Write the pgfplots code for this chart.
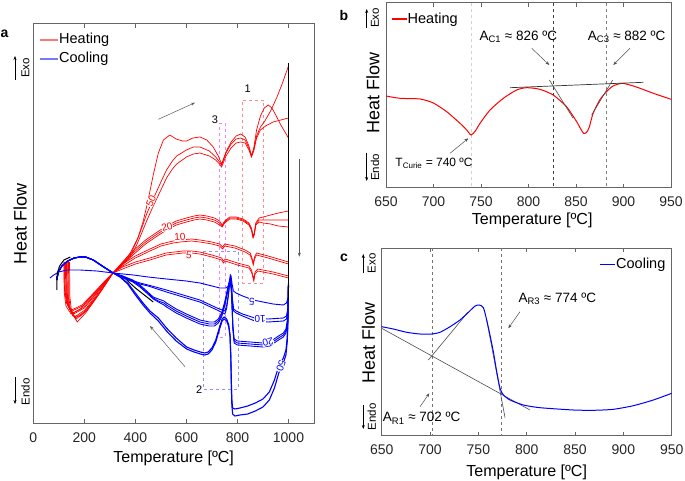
\documentclass[border=0pt]{standalone}
\usepackage{fontspec}
\setmainfont{Liberation Sans}
\usepackage{pgfplots}
\pgfplotsset{compat=1.18}
\usetikzlibrary{arrows.meta}
\definecolor{frame}{gray}{0.4}
\definecolor{boxred}{RGB}{255,140,140}
\definecolor{boxmag}{RGB}{238,130,250}
\definecolor{boxblue}{RGB}{145,145,255}
\definecolor{tang}{gray}{0.3}
\definecolor{palered}{RGB}{255,120,120}
\definecolor{paleblue}{RGB}{120,120,255}
\newcommand{\fs}[1]{\fontsize{#1}{#1}\selectfont}
\pgfplotsset{
  panel/.style={
    scale only axis, anchor=south west,
    axis line style={frame, line width=1pt},
    every tick/.style={frame, line width=0.7pt},
    tick align=inside, major tick length=4pt,
    xtick pos=both, ytick=\empty,
    /pgf/number format/assume math mode=true,
    /pgf/number format/1000 sep={},
    tick label style={font=\fs{14}, text=black!85},
    xticklabel style={yshift=-5pt},
    label style={font=\fs{16}},
  },
  hr/.style={red, line width=0.7pt},
  cb/.style={blue, line width=0.9pt},
}
\begin{document}
\begin{tikzpicture}
\path[use as bounding box] (0,0) rectangle (685pt,480pt);
% ================= Panel a =================
\begin{axis}[panel, at={(33.3pt,57pt)}, width=280.7pt, height=399pt,
  xmin=0, xmax=1100, ymin=-423, ymax=-24, xtick={0,200,...,1000},
  xticklabel style={yshift=-1.5pt},
  xlabel={Temperature [ºC]}, ylabel={Heat Flow},
  xlabel style={at={(axis description cs:0.5,0)}, anchor=center, yshift=-35pt},
  ylabel style={at={(axis description cs:-0.047,0.5)}, anchor=center, font=\fs{18}}]
% boxes
\addplot[boxred, dashed, line width=0.7pt] coordinates {(820,-100) (901,-100) (901,-283) (820,-283) (820,-100)};
\addplot[boxmag, dashed, line width=0.7pt] coordinates {(729,-123) (751,-123) (751,-337) (729,-337) (729,-123)};
\addplot[boxblue, dashed, line width=0.7pt] coordinates {(666,-251) (803,-251) (803,-389) (666,-389) (666,-251)};
% heating 50
\addplot[hr] coordinates {(130,-262) (131,-290) (137,-306) (155,-316) (185,-316) (225,-304) (270,-289) (312,-273) (345,-264) (380,-253) (410,-238) (430,-222) (450,-200) (470,-175) (490,-153) (510,-140) (535,-135) (560,-139) (585,-141) (601,-141) (625,-138) (653,-137) (680,-140) (705,-147) (725,-156) (738,-164) (755,-152) (775,-142) (795,-136) (812,-134) (830,-137) (845,-146) (855,-156) (864,-148) (875,-130) (890,-116) (905,-108) (921,-105) (935,-108) (950,-115) (970,-125) (1000,-138)};
\addplot[hr] coordinates {(142,-262) (143,-296) (150,-312) (172,-322) (205,-313) (250,-297) (290,-282) (312,-273) (345,-265) (380,-255) (405,-241) (425,-228) (444,-214) (470,-199) (500,-182) (522,-170) (545,-161) (562,-156) (600,-150) (627,-147) (653,-147) (690,-151) (715,-157) (730,-162) (738,-165) (755,-153) (775,-144) (795,-139) (812,-138) (830,-140) (845,-148) (855,-156) (864,-149) (875,-136) (890,-127) (905,-122) (930,-111) (955,-97) (975,-84) (1000,-66)};
\addplot[hr] coordinates {(120,-262) (121,-292) (128,-306) (148,-314) (185,-309) (235,-294) (280,-281) (312,-273) (345,-266) (380,-257) (405,-245) (425,-233) (444,-221) (470,-206) (500,-190) (522,-178) (545,-169) (562,-164) (600,-157) (627,-154) (653,-153) (690,-156) (715,-160) (730,-164) (738,-167) (755,-156) (775,-148) (795,-143) (812,-142) (830,-143) (845,-150) (855,-157) (864,-151) (875,-138) (890,-130) (910,-126) (940,-122) (970,-120) (1000,-118)};
% heating 20
\addplot[hr] coordinates {(135,-262) (136,-294) (143,-309) (165,-318) (205,-311) (255,-294) (312,-273) (350,-262) (395,-250) (440,-240) (480,-233) (522,-226) (560,-221) (600,-218) (630,-216) (653,-215) (680,-216) (710,-218) (730,-221) (740,-225) (750,-221) (770,-217) (795,-217) (822,-219) (845,-223) (855,-228) (861,-236) (866,-233) (872,-223) (885,-218) (901,-217) (930,-215) (960,-213) (1000,-211)};
\addplot[hr] coordinates {(138,-262) (139,-296) (146,-311) (168,-319) (208,-311) (257,-294) (312,-273) (350,-263) (395,-252) (440,-242) (480,-235) (522,-228) (560,-223) (600,-220) (630,-218) (653,-217) (680,-218) (710,-220) (730,-223) (740,-226) (750,-222) (770,-218) (795,-218) (822,-220) (845,-224) (855,-229) (861,-237) (866,-234) (872,-224) (885,-220) (901,-220) (930,-220) (960,-220) (1000,-220)};
\addplot[hr] coordinates {(132,-262) (133,-293) (140,-308) (162,-317) (202,-310) (253,-293) (312,-273) (350,-264) (395,-254) (440,-244) (480,-237) (522,-230) (560,-225) (600,-222) (630,-220) (653,-219) (680,-220) (710,-222) (730,-225) (740,-227) (750,-223) (770,-219) (795,-219) (822,-221) (845,-225) (855,-230) (861,-238) (866,-235) (872,-225) (885,-222) (901,-223) (930,-224) (960,-226) (1000,-227)};
% heating 10
\addplot[hr] coordinates {(128,-262) (129,-292) (136,-306) (158,-314) (200,-308) (255,-291) (312,-273) (350,-264) (400,-256) (457,-249) (500,-244) (548,-241) (575,-240) (620,-239) (653,-240) (700,-242) (730,-244) (742,-247) (750,-244) (790,-246) (830,-250) (850,-253) (857,-258) (862,-263) (867,-257) (875,-253) (920,-256) (960,-259) (1000,-262)};
\addplot[hr] coordinates {(126,-262) (127,-291) (134,-305) (156,-313) (198,-307) (253,-291) (312,-273) (350,-266) (400,-258) (457,-251) (500,-246) (548,-243) (575,-242) (620,-241) (653,-242) (700,-244) (730,-246) (742,-249) (750,-246) (790,-248) (830,-252) (850,-255) (857,-260) (862,-265) (867,-259) (875,-255) (920,-258) (960,-261) (1000,-264)};
% heating 5
\addplot[hr] coordinates {(123,-262) (124,-290) (132,-304) (152,-311) (193,-306) (250,-291) (312,-273) (350,-267) (400,-262) (457,-258) (520,-253) (587,-251) (620,-251) (653,-252) (700,-255) (738,-258) (745,-261) (752,-259) (800,-263) (845,-266) (855,-270) (860,-275) (864,-279) (869,-272) (880,-269) (940,-272) (1000,-276)};
\addplot[hr] coordinates {(121,-262) (122,-289) (130,-303) (150,-310) (191,-305) (248,-290) (312,-273) (350,-269) (400,-264) (457,-260) (520,-255) (587,-253) (620,-253) (653,-254) (700,-257) (738,-260) (745,-263) (752,-261) (800,-265) (845,-268) (855,-272) (860,-277) (864,-281) (869,-274) (880,-271) (940,-274) (1000,-278)};
% cooling 5
\addplot[cb] coordinates {(1000,-282) (998,-298) (992,-303) (980,-305) (940,-304) (900,-302) (862,-300) (820,-296) (795,-293) (784,-291) (779,-284) (775,-276) (772,-275) (769,-280) (764,-286) (755,-288) (731,-288) (700,-286) (653,-283) (600,-281) (522,-279) (450,-277) (392,-275) (313,-273) (250,-271) (183,-270) (131,-270) (100,-272) (80,-275) (65,-278)};
% cooling 10
\addplot[cb] coordinates {(1000,-285) (998,-308) (992,-316) (980,-318) (920,-319) (868,-318) (820,-314) (795,-311) (785,-309) (780,-298) (776,-282) (773,-277) (770,-281) (765,-293) (758,-305) (751,-311) (720,-308) (653,-300) (600,-296) (522,-290) (450,-285) (418,-283) (360,-278) (313,-273) (270,-266) (235,-260) (205,-257) (183,-257) (160,-258) (135,-261) (112,-266) (98,-272) (92,-280)};
\addplot[cb] coordinates {(1000,-285) (998,-310) (992,-319) (980,-321) (920,-322) (868,-321) (820,-316) (795,-313) (785,-311) (780,-300) (776,-283) (773,-277) (770,-282) (765,-295) (758,-308) (751,-314) (720,-310) (653,-302) (600,-298) (522,-292) (450,-286) (418,-284) (360,-279) (313,-273) (270,-266) (235,-260) (205,-257) (183,-257) (160,-258) (135,-261) (112,-266) (98,-272) (92,-280)};
% cooling 20
\addplot[cb] coordinates {(1000,-285) (997,-318) (990,-329) (980,-333) (955,-337) (927,-342) (900,-343) (850,-342) (800,-341) (787,-339) (782,-325) (779,-305) (776,-288) (772,-282) (767,-283) (760,-290) (750,-302) (738,-313) (725,-319) (710,-322) (690,-322) (653,-320) (600,-314) (560,-309) (535,-305) (522,-303) (512,-301) (490,-299) (470,-297) (440,-290) (418,-285) (390,-280) (350,-276) (313,-273) (270,-266) (235,-260) (205,-257) (183,-257) (160,-258) (135,-261) (112,-266) (98,-272) (92,-280)};
\addplot[cb] coordinates {(1000,-285) (997,-320) (990,-331) (980,-335) (955,-339) (927,-344) (900,-345) (850,-344) (800,-343) (787,-341) (782,-327) (779,-306) (776,-289) (772,-282) (767,-284) (760,-292) (750,-304) (738,-315) (725,-321) (710,-324) (690,-324) (653,-322) (600,-316) (560,-311) (535,-307) (522,-305) (512,-303) (490,-301) (470,-298) (440,-291) (418,-286) (390,-281) (350,-276) (313,-273) (270,-266) (235,-260) (205,-257) (183,-257) (160,-258) (135,-261) (112,-266) (98,-272) (92,-280)};
\addplot[cb] coordinates {(1000,-285) (997,-322) (990,-333) (980,-337) (955,-341) (927,-346) (900,-347) (850,-346) (800,-345) (787,-343) (782,-329) (779,-307) (776,-290) (772,-283) (767,-285) (760,-294) (750,-306) (738,-317) (725,-323) (710,-326) (690,-326) (653,-324) (600,-318) (560,-313) (535,-309) (522,-307) (512,-305) (490,-302) (470,-299) (440,-292) (418,-287) (390,-282) (350,-277) (313,-273) (270,-266) (235,-260) (205,-257) (183,-257) (160,-258) (135,-261) (112,-266) (98,-272) (92,-280)};
% cooling 50
\addplot[blue, line width=1.1pt] coordinates {(1000,-285) (998,-318) (995,-338) (990,-350) (980,-358) (962,-366) (945,-380) (925,-392) (900,-399) (870,-403) (840,-406) (810,-408) (790,-409) (781,-408) (778,-400) (776,-380) (774,-355) (771,-335) (766,-325) (758,-319) (748,-317) (740,-319) (730,-327) (715,-340) (700,-348) (685,-352) (672,-353) (655,-352) (630,-350) (601,-347) (560,-338) (522,-328) (490,-318) (457,-311) (430,-303) (400,-293) (370,-283) (340,-277) (313,-273) (270,-266) (235,-260) (205,-257) (183,-257) (160,-258) (135,-261) (112,-266) (98,-272) (92,-280)};
\addplot[blue, line width=1.1pt] coordinates {(1000,-285) (998,-322) (995,-342) (990,-355) (980,-363) (962,-373) (945,-388) (925,-400) (900,-407) (870,-411) (840,-414) (810,-415) (790,-416) (781,-414) (778,-405) (776,-385) (774,-358) (771,-337) (766,-327) (758,-321) (748,-319) (740,-321) (730,-329) (715,-342) (700,-350) (685,-354) (672,-355) (655,-354) (630,-352) (601,-349) (560,-341) (522,-331) (490,-321) (457,-313) (430,-305) (400,-295) (370,-284) (340,-277) (313,-273) (270,-266) (235,-260) (205,-257) (183,-257) (160,-258) (135,-261) (112,-266) (98,-272) (92,-280)};
% black segments
\addplot[black, line width=1pt] coordinates {(1000,-63) (1000,-300)};
\addplot[black, line width=1pt] coordinates {(145,-257) (120,-260) (103,-266) (93,-274) (92,-290)};
\addplot[black, line width=1pt] coordinates {(366,-280) (400,-288) (440,-296) (470,-302)};
\end{axis}
% ================= Panel b =================
\begin{axis}[panel, at={(386pt,292.3pt)}, width=285pt, height=185pt,
  xmin=650, xmax=950, ymin=-187.7, ymax=-2.7, xtick={650,700,...,950},
  xlabel={Temperature [ºC]}, ylabel={Heat Flow},
  xlabel style={at={(axis description cs:0.513,0)}, anchor=center, yshift=-33pt},
  ylabel style={at={(axis description cs:-0.046,0.512)}, anchor=center, font=\fs{18}}]
\addplot[gray!35, dashed, line width=0.7pt] coordinates {(740,-2.7) (740,-187.7)};
\addplot[black!75, dashed, line width=0.8pt] coordinates {(826,-2.7) (826,-187.7)};
\addplot[black!50, dashed, line width=0.7pt] coordinates {(882,-2.7) (882,-187.7)};
\addplot[red, line width=1pt, smooth, tension=0.4] coordinates {(650,-96) (664.7,-98.3) (685.8,-99) (699.8,-103) (713.9,-111.7) (727.9,-123.3) (735,-130) (739.5,-135) (744,-131) (749,-123.3) (759.5,-110) (773.5,-98.3) (787.5,-90) (798,-87.7) (812,-89.3) (826,-95) (840,-106.7) (850.7,-121.7) (855,-129) (858,-133.3) (861,-132.5) (864,-127) (868,-113.3) (875,-100) (882,-91.7) (889,-86) (898,-83.3) (906.8,-85) (917.4,-88.3) (931.4,-93.3) (942,-96.7) (950,-99.3)};
\addplot[black!80, line width=0.7pt] coordinates {(780.5,-87.7) (920.9,-82.3)};
\addplot[tang, line width=0.6pt] coordinates {(822,-80) (847,-118.3)};
\addplot[tang, line width=0.6pt] coordinates {(866.5,-115) (888.6,-80)};
\end{axis}
% ================= Panel c =================
\begin{axis}[panel, at={(381.7pt,44.3pt)}, width=290pt, height=187.4pt,
  xmin=650, xmax=950, ymin=-435.7, ymax=-248.3, xtick={650,700,...,950},
  xlabel={Temperature [ºC]}, ylabel={Heat Flow},
  xlabel style={at={(axis description cs:0.5,0)}, anchor=center, yshift=-37pt},
  ylabel style={at={(axis description cs:-0.046,0.493)}, anchor=center, font=\fs{18}}]
\addplot[black!55, dashed, line width=0.7pt] coordinates {(702,-248.3) (702,-435.7)};
\addplot[black!55, dashed, line width=0.7pt] coordinates {(774,-248.3) (774,-435.7)};
\addplot[tang, line width=0.6pt] coordinates {(650,-328.3) (803.4,-410)};
\addplot[tang, line width=0.6pt] coordinates {(698.3,-360) (739.7,-311.7)};
\addplot[tang, line width=0.6pt] coordinates {(758.6,-320) (777.6,-417.7)};
\addplot[blue, line width=1pt, smooth, tension=0.4] coordinates {(650,-326.7) (662,-329) (675.9,-332.3) (689.7,-334) (701.7,-334) (710.3,-332.3) (720.7,-326.7) (731,-320) (739.7,-312.3) (746.6,-306) (751,-305) (755.2,-307.7) (758.6,-320) (762,-335) (765.5,-351.7) (769,-371.7) (772.4,-388.3) (775.9,-395) (782.8,-400) (796.6,-405) (813.8,-407.7) (848.3,-410) (869,-410.3) (889.7,-409.3) (910.3,-405.7) (931,-400) (950,-393.3)};
\end{axis}
% ================= annotations (pixel coordinates) =================
\begin{scope}[shift={(0pt,480pt)}, x=1pt, y=-1pt]
\tikzset{arr/.style={-{Stealth[length=4pt,width=3pt]}, line width=0.5pt}}
% legends
\draw[palered, line width=1.2pt] (40,40) -- (58,40);
\node[anchor=west, inner sep=0.5pt, font=\fs{14.5}] at (58.5,40) {Heating};
\draw[paleblue, line width=1.2pt] (40,59) -- (58,59);
\node[anchor=west, inner sep=0.5pt, font=\fs{14.5}] at (58.5,59) {Cooling};
\fill[red] (391.7,18.5) rectangle (406.7,20.1);
\node[anchor=west, inner sep=0.5pt, font=\fs{14.5}] at (407,19.3) {Heating};
\draw[blue, line width=1.3pt] (600,264.3) -- (615,264.3);
\node[anchor=west, inner sep=0.5pt, font=\fs{14.5}] at (615.5,264.3) {Cooling};
% panel letters
\node[font=\fs{14}\bfseries] at (4.5,33.5) {a};
\node[font=\fs{14}\bfseries] at (344,15) {b};
\node[font=\fs{14}\bfseries] at (344,258.3) {c};
% exo / endo
\draw[arr] (15,80) -- (15,56);
\node[rotate=90, font=\fs{11.5}] at (25.5,68) {Exo};
\draw[arr] (15,377) -- (15,404);
\node[rotate=90, font=\fs{11.5}] at (25.5,392) {Endo};
\draw[arr] (366.7,28) -- (366.7,9);
\node[rotate=90, font=\fs{11.5}] at (375,18) {Exo};
\draw[arr] (366.7,153) -- (366.7,181);
\node[rotate=90, font=\fs{11.5}] at (375,167.5) {Endo};
\draw[arr] (363.3,273) -- (363.3,254);
\node[rotate=90, font=\fs{11.5}] at (371.7,263.5) {Exo};
\draw[arr] (363.3,405) -- (363.3,429);
\node[rotate=90, font=\fs{11.5}] at (371.7,416.7) {Endo};
% panel a labels
\node[font=\fs{11}] at (247.7,88.3) {1};
\node[font=\fs{11}] at (215,120) {3};
\node[font=\fs{11}] at (199.3,390) {2};
\draw[arr, black!65] (158.3,119.3) -- (195,102.7);
\draw[arr, black!65] (299.3,159.3) -- (299.3,256.7);
\draw[arr, black!65] (185,366.7) -- (150,326);
\tikzset{cl/.style={fill=white, inner sep=0.2pt, font=\fs{10}}}
\node[cl, text=red, rotate=65] at (151,201) {50};
\node[cl, text=red, rotate=15] at (167,227) {20};
\node[cl, text=red, rotate=4] at (180,237) {10};
\node[cl, text=red, rotate=-4] at (189,255) {5};
\node[cl, text=blue, rotate=175] at (251.7,301.7) {5};
\node[cl, text=blue, rotate=180] at (260,319.3) {10};
\node[cl, text=blue, rotate=195] at (268,342) {20};
\node[cl, text=blue, rotate=-110] at (281,366) {50};
% panel b annotations
\node[font=\fs{13.5}] at (518.3,36.7) {A\textsubscript{C1} ≈ 826 ºC};
\node[font=\fs{13.5}] at (626.7,36.7) {A\textsubscript{C3} ≈ 882 ºC};
\node[font=\fs{12}] at (434,163.3) {T\textsubscript{Curie} = 740 ºC};
\draw[arr, black!70] (531.7,48.3) -- (549.3,65);
\draw[arr, black!70] (630,48.3) -- (613.3,65);
\draw[arr, black!70] (450,153.3) -- (468.3,138.3);
% panel c annotations
\node[font=\fs{13.5}] at (557.3,299) {A\textsubscript{R3} ≈ 774 ºC};
\node[font=\fs{13.5}] at (421.7,418.3) {A\textsubscript{R1} ≈ 702 ºC};
\draw[arr, black!70] (520,311.7) -- (508.3,328.3);
\draw[arr, black!70] (420,406.7) -- (429.3,393.3);
\end{scope}
\end{tikzpicture}
\end{document}
